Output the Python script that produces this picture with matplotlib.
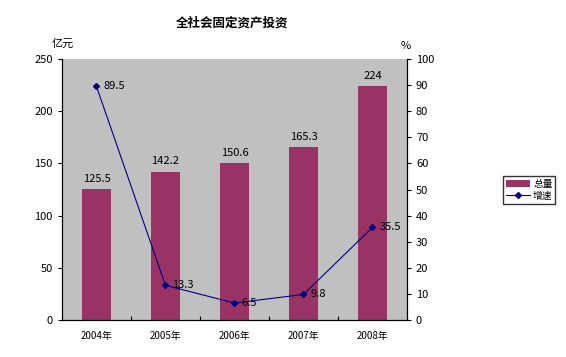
import matplotlib
matplotlib.use('Agg')
import matplotlib.pyplot as plt
import numpy as np

plt.rcParams['font.family'] = ['Noto Sans CJK SC', 'DejaVu Sans']

years = ['2004年', '2005年', '2006年', '2007年', '2008年']
total = [125.5, 142.2, 150.6, 165.3, 224]
growth = [89.5, 13.3, 6.5, 9.8, 35.5]
total_labels = ['125.5', '142.2', '150.6', '165.3', '224']

fig = plt.figure(figsize=(5.66, 3.57), dpi=100, facecolor='white')
ax = fig.add_axes([0.1095, 0.1036, 0.6095, 0.731])
ax.set_facecolor('#C0C0C0')
x = np.arange(len(years))
bars = ax.bar(x, total, width=0.42, color='#993366', label='总量', zorder=2)
ax.set_xlim(-0.5, len(years) - 0.5)
ax.set_ylim(0, 250)
ax.set_yticks(np.arange(0, 251, 50))
ax.set_xticks(np.arange(-0.5, len(years), 1.0))
ax.set_xticklabels([])
ax.set_xticks(x, minor=True)
ax.set_xticklabels(years, minor=True, fontsize=7)
ax.tick_params(axis='x', which='minor', length=0, pad=8)
ax.tick_params(axis='x', which='major', length=3, direction='in')
ax.tick_params(axis='y', labelsize=8, length=3, direction='out')
ax.spines['top'].set_visible(False)
for i, v in enumerate(total):
    ax.text(x[i], v + 5, total_labels[i], ha='center', va='bottom', fontsize=8)

ax2 = ax.twinx()
ax2.plot(x, growth, color='#000080', marker='D', markersize=3, linewidth=0.8,
         label='增速', zorder=3)
ax2.set_ylim(0, 100)
ax2.set_yticks(np.arange(0, 101, 10))
ax2.tick_params(axis='y', labelsize=8, length=3, direction='out')
ax2.spines['top'].set_visible(False)
for i, v in enumerate(growth):
    ax2.text(x[i] + 0.1, v, str(v), ha='left', va='center', fontsize=8)

fig.text(0.41, 0.935, '全社会固定资产投资', ha='center', va='center',
         fontsize=9, fontweight='bold')
fig.text(0.111, 0.877, '亿元', ha='center', va='center', fontsize=8)
fig.text(0.716, 0.87, '%', ha='center', va='center', fontsize=8)

h1, l1 = ax.get_legend_handles_labels()
h2, l2 = ax2.get_legend_handles_labels()
fig.legend(h1 + h2, l1 + l2, loc='center', bbox_to_anchor=(0.935, 0.468),
           fontsize=7, frameon=True, fancybox=False, edgecolor='black',
           handlelength=2.5, borderpad=0.3, labelspacing=0.2,
           handletextpad=0.3, borderaxespad=0)

fig.savefig('out.png', dpi=100, facecolor='white')
